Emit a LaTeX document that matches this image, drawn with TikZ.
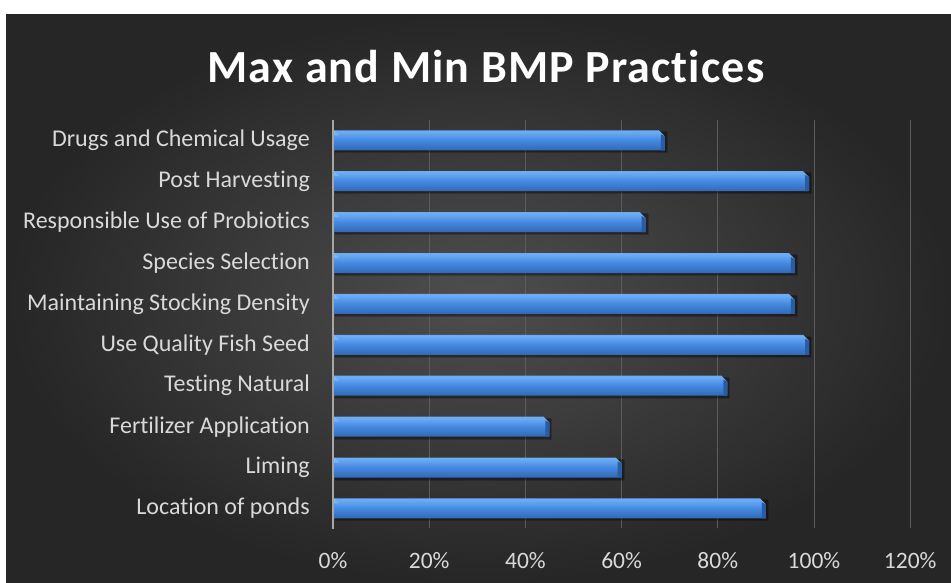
\documentclass[tikz,border=0pt]{standalone}
\usepackage{fontspec}
\setmainfont{Carlito}[Ligatures=NoCommon]
\usetikzlibrary{calc}
\definecolor{bgin}{HTML}{4E4E4E}
\definecolor{bgout}{HTML}{262626}
\definecolor{labelc}{HTML}{D9D9D9}
\definecolor{gridc}{HTML}{5C5C5C}
\definecolor{axisc}{HTML}{A6A6A6}
\definecolor{btop}{HTML}{2F5FA8}
\definecolor{bhi}{HTML}{6DADF6}
\definecolor{bmid}{HTML}{4489E0}
\definecolor{bbot}{HTML}{265296}
\definecolor{bface}{HTML}{2A5CA6}
\pgfdeclareverticalshading{barshade}{100bp}{color(0bp)=(bbot); color(25bp)=(bbot!60!bmid); color(50bp)=(bmid); color(72bp)=(bhi); color(88bp)=(bhi!70!bmid); color(100bp)=(btop)}
\tikzset{
  catlabel/.style={anchor=east, text=labelc, font=\fontsize{24}{26}\selectfont, inner sep=0pt},
  axlabel/.style={anchor=center, text=labelc, font=\fontsize{23.5}{26}\selectfont, inner sep=0pt},
  gridline/.style={draw=gridc, line width=1pt},
  axisline/.style={draw=axisc, line width=1.6pt},
}
\newcommand{\hbarx}[3]{% name, center y, value
  \pgfmathsetmacro{\xe}{333+4.81*#3}
  \fill[black, opacity=0.2] (335,#2-8) rectangle (\xe+3,#2+13);
  \fill[black, opacity=0.25] (335,#2-9) rectangle (\xe+2,#2+12);
  \shade[shading=barshade] (334,#2-10) -- (\xe-6,#2-10) -- (\xe,#2-4) -- (\xe,#2+10) -- (334,#2+10) -- cycle;
  \fill[bface] (\xe-4,#2-6) -- (\xe,#2-4) -- (\xe,#2+10) -- (\xe-4,#2+10) -- cycle;
  \fill[bhi!80!white, opacity=0.6] (334,#2-10) -- (339,#2-5) -- (334,#2-5) -- cycle;
  \coordinate (#1) at (\xe,#2);
}
\begin{document}
\begin{tikzpicture}[x=1pt,y=-1pt]
\useasboundingbox (0,0) rectangle (951,583);
\fill[white] (0,0) rectangle (951,583);
\shade[inner color=bgin, outer color=bgout] (6,15) rectangle (951,583);
% title
\node (title)[anchor=base, text=white, font=\fontsize{46}{50}\selectfont\bfseries\addfontfeature{LetterSpace=2.5}, inner sep=0pt] at (486,82.5) {Max and Min BMP Practices};
% grid
\foreach \k in {1,...,6} {
  \draw[gridline] (333+96.2*\k,120) -- (333+96.2*\k,528);
}
% bars
\hbarx{b1}{140.3}{69}
\hbarx{b2}{181.2}{99}
\hbarx{b3}{222.1}{65}
\hbarx{b4}{263.0}{96}
\hbarx{b5}{303.9}{96}
\hbarx{b6}{344.8}{99}
\hbarx{b7}{385.7}{82}
\hbarx{b8}{426.6}{45}
\hbarx{b9}{467.5}{60}
\hbarx{b10}{508.4}{90}
\draw[axisline] (333,120) -- (333,529);
% category labels
\node (l1)[catlabel] at (310,140.3) {Drugs and Chemical Usage};
\node (l2)[catlabel] at (310,181.2) {Post Harvesting};
\node (l3)[catlabel] at (310,222.1) {Responsible Use of Probiotics};
\node (l4)[catlabel] at (310,263.0) {Species Selection};
\node (l5)[catlabel] at (310,303.9) {Maintaining Stocking Density};
\node (l6)[catlabel] at (310,344.8) {Use Quality Fish Seed};
\node (l7)[catlabel] at (310,385.7) {Testing Natural};
\node (l8)[catlabel] at (310,426.6) {Fertilizer Application};
\node (l9)[catlabel] at (310,467.5) {Liming};
\node (l10)[catlabel] at (310,508.4) {Location of ponds};
% axis labels
\foreach \k/\t in {0/0\%,1/20\%,2/40\%,3/60\%,4/80\%,5/100\%,6/120\%} {
  \node (ax\k)[axlabel] at (333+96.2*\k,561) {\t};
}
\end{tikzpicture}
\end{document}
